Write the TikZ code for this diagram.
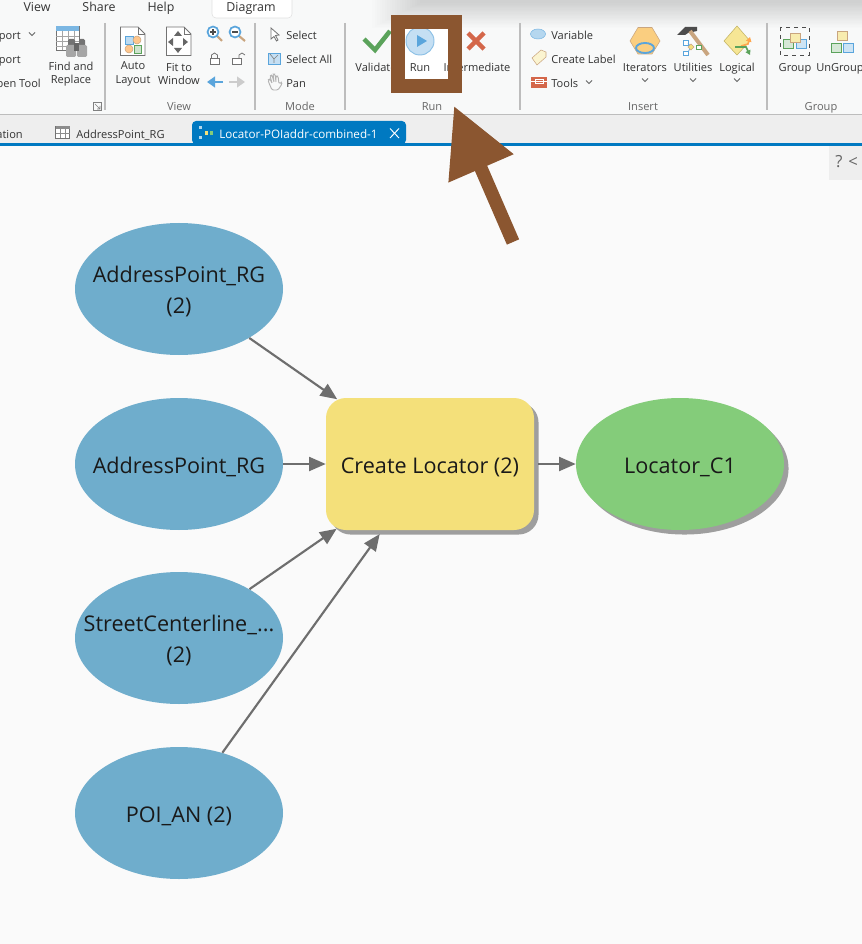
\documentclass[tikz,border=0pt]{standalone}
\usepackage{fontspec}
\setmainfont{Open Sans}
\usetikzlibrary{arrows.meta,shapes.geometric,shadows}

\definecolor{ribbonbg}{HTML}{F8F9F9}
\definecolor{stripbg}{HTML}{EEEEEE}
\definecolor{canvasbg}{HTML}{FAFAFA}
\definecolor{tabblue}{HTML}{0079C1}
\definecolor{varblue}{HTML}{6FADCC}
\definecolor{toolyellow}{HTML}{F4E07A}
\definecolor{outgreen}{HTML}{84CC7A}
\definecolor{flowgray}{HTML}{6E6E6E}
\definecolor{pointerbrown}{HTML}{8B5630}
\definecolor{labelgray}{HTML}{333333}
\definecolor{sepgray}{HTML}{BDBDBD}
\definecolor{iconblue}{HTML}{5AA5DC}
\definecolor{icongreen}{HTML}{5BA35B}
\definecolor{iconred}{HTML}{D4674A}
\definecolor{icontan}{HTML}{C9A57F}

\newcommand{\modeltext}[1]{\raisebox{-2.2pt}[\height][\depth]{\begin{tabular}{@{}c@{}}#1\end{tabular}}}

\tikzset{
  ribbontext/.style={font=\fontsize{8.3}{10}\selectfont, text=labelgray, inner sep=0pt, align=center, text height=8pt, text depth=0.7pt},
  ribbontwo/.style={ribbontext, text height=, text depth=},
  ribbonleft/.style={ribbontext, anchor=west},
  ribbonright/.style={ribbontext, anchor=east},
  menutext/.style={ribbontext, font=\fontsize{9.3}{11}\selectfont},
  grouptext/.style={ribbontext, text=black!60},
  chevron/.style={draw=black!60, line width=0.6pt},
  sepline/.style={draw=sepgray, line width=0.8pt},
  iconline/.style={draw=black!55, line width=0.6pt},
  modelvar/.style={ellipse, fill=varblue, minimum width=156pt, minimum height=99pt, inner sep=-25pt, font=\fontsize{16.2}{23}\selectfont, text=black!90},
  modeltool/.style={rectangle, rounded corners=15pt, fill=toolyellow, minimum width=156pt, minimum height=99pt, inner sep=0pt, font=\fontsize{16.2}{23}\selectfont, text=black!90, copy shadow={shadow xshift=3.4pt, shadow yshift=-3.4pt, fill=black!38, draw=none}},
  modelout/.style={ellipse, fill=outgreen, minimum width=156pt, minimum height=99pt, inner sep=-25pt, font=\fontsize{16.2}{23}\selectfont, text=black!90, copy shadow={shadow xshift=3.4pt, shadow yshift=-3.4pt, fill=black!38, draw=none}},
  modelflow/.style={draw=flowgray, line width=1.6pt, -{Triangle[length=12.5pt,width=10.5pt]}},
}

\begin{document}
\begin{tikzpicture}[x=0.75pt,y=-0.75pt]
\useasboundingbox (0,0) rectangle (862,944);

% backgrounds
\fill [canvasbg] (0,0) rectangle (862,944);
\fill [ribbonbg] (0,0) rectangle (862,114);
\foreach \d in {0,...,19}
  \fill [black, opacity=0.009] (372+2.5*\d,0) rectangle (862,28-1.3*\d);
\fill [stripbg] (0,115) rectangle (862,143);
\draw [sepgray] (0,114.5) -- (862,114.5);
\fill [tabblue] (0,143) rectangle (862,146);

% menu row
\draw [draw=black!12, fill=white, rounded corners=3pt] (212,-4) -- (212,18) -- (292,18) -- (292,-4);
\node [menutext] (menuview) at (37,7) {View};
\node [menutext] (menushare) at (99,7) {Share};
\node [menutext] (menuhelp) at (161,7) {Help};
\node [menutext] (menudiagram) at (251,7) {Diagram};

\foreach \sx in {105,255,345,520,767}
  \draw [sepline] (\sx,23) -- (\sx,110);

% clipped commands at the left
\node [ribbonright] (cmdone) at (21,35) {port};
\node [ribbonright] (cmdtwo) at (21,59) {port};
\node [ribbonright] (cmdthree) at (41,83) {pen Tool};
\node [ribbontwo] (findreplace) at (71,74) {Find and\\Replace};

% find and replace icon
\draw [iconline, fill=white] (56,26) rectangle (79,50);
\fill [iconblue!80] (56,26) rectangle (79,31);
\foreach \gy in {36,41,46}
  \draw [black!35, line width=0.4pt] (56,\gy) -- (79,\gy);
\foreach \gx in {62,68,74}
  \draw [black!35, line width=0.4pt] (\gx,31) -- (\gx,50);
\fill [black!55, rounded corners=1pt] (68,39) rectangle (75,46);
\fill [black!55, rounded corners=1pt] (79,39) rectangle (85,46);
\fill [black!35, rounded corners=1pt] (66,45) rectangle (76,57);
\fill [black!35, rounded corners=1pt] (77,45) rectangle (87,57);
\fill [black!60] (74,43) rectangle (79,51);

% auto layout and fit to window icons
\draw [iconline, fill=white] (120.5,27) -- (138,27) -- (145,34) -- (145,55.5) -- (120.5,55.5) -- cycle;
\draw [iconline] (138,27) -- (138,34) -- (145,34);
\draw [draw=iconblue, fill=iconblue!40] (125,36) rectangle (133,44);
\draw [draw=icontan, fill=orange!45] (137,40) circle [radius=4];
\draw [draw=icontan, fill=orange!45] (129,49) circle [radius=4];
\draw [draw=icongreen, fill=icongreen!30] (134,45) rectangle (141,53);
\draw [iconline, fill=white] (166.5,27) -- (184,27) -- (191,34) -- (191,55.5) -- (166.5,55.5) -- cycle;
\draw [iconline] (184,27) -- (184,34) -- (191,34);
\fill [black!60] (178,31) -- (182,36) -- (174,36) -- cycle;
\fill [black!60] (178,53) -- (182,48) -- (174,48) -- cycle;
\fill [black!60] (168,42) -- (173,38) -- (173,46) -- cycle;
\fill [black!60] (188,42) -- (183,38) -- (183,46) -- cycle;
\node [ribbontwo] (autolayout) at (133,74) {Auto\\Layout};
\node [ribbontwo] (fitwindow) at (179,74) {Fit to\\Window};

% zoom, lock and arrow icons
\draw [icontan, line width=1.6pt] (217,36) -- (222,41);
\draw [icontan, line width=1.6pt] (239,36) -- (245,41);
\draw [iconblue, fill=white, line width=1.3pt] (213,32) circle [radius=5.5];
\draw [iconblue, fill=white, line width=1.3pt] (235,32) circle [radius=5.5];
\draw [black!70, line width=0.8pt] (210,32) -- (216,32) (213,29) -- (213,35);
\draw [black!70, line width=0.8pt] (232,32) -- (238,32);
\draw [iconline, fill=white] (210,58) rectangle (219,64);
\draw [iconline] (211.5,58) -- (211.5,55) -- (214.5,53) -- (217.5,55) -- (217.5,58);
\draw [iconline, fill=white] (232,58) rectangle (241,64);
\draw [iconline] (239,58) -- (239,55) -- (242,53) -- (245,55);
\draw [iconblue, line width=1.6pt, -{Triangle[length=6pt,width=8pt]}] (223,82) -- (207,82);
\draw [black!20, line width=1.6pt, -{Triangle[length=6pt,width=8pt]}] (229,82) -- (245,82);

% mode group
\draw [iconline, fill=white] (271,28) -- (271,39) -- (274,36.5) -- (276.5,41) -- (278,40) -- (275.5,35.5) -- (279,35) -- cycle;
\draw [draw=iconblue, fill=iconblue!35] (268,53) rectangle (280,64);
\draw [black!50, line width=0.5pt] (270,54) -- (274,59) -- (278,55) (274,59) -- (274,63);
\draw [black!30, line width=0.7pt, rounded corners=1pt] (269,83) -- (268,80) -- (270,79) -- (272,83) (272,83) -- (270,76) -- (272,75) -- (274,82) (274,82) -- (273,74) -- (275,74) -- (276,82) (276,82) -- (276,76) -- (278,76) -- (279,84) -- (281,82) -- (282,84) -- (278,90) -- (272,90) -- (269,83);
\node [ribbonleft] (selectone) at (286,35) {Select};
\node [ribbonleft] (selectall) at (286,59) {Select All};
\node [ribbonleft] (panmode) at (286,83) {Pan};

% run group
\fill [white] (405,29) rectangle (448,79);
\draw [icongreen, line width=3.4pt] (364,39) -- (375,50) -- (390,31);
\draw [draw=iconblue!70, fill=iconblue!35, line width=0.7pt] (420,41) circle [radius=14];
\fill [iconblue] (417,35) -- (427,41) -- (417,47) -- cycle;
\draw [iconred, line width=3.4pt] (468,33) -- (484,49) (484,33) -- (468,49);
\node [ribbontext] (validate) at (376,67) {Validate};
\node [ribbontext] (runcmd) at (420,67) {Run};
\node [ribbontext] (intermediate) at (477,67) {Intermediate};

% insert group
\draw [draw=iconblue!80, fill=iconblue!45] (538,34) ellipse [x radius=7.5, y radius=5];
\draw [draw=icontan, fill=toolyellow!35] (532,58) -- (541,50) -- (546,52) -- (546,57) -- (537,65) -- cycle;
\fill [iconred] (531,77) rectangle (547,88);
\draw [white, line width=0.6pt] (531,81) -- (547,81) (535,79) rectangle (543,83);
\node [ribbonleft] (varcmd) at (551,35) {Variable};
\node [ribbonleft] (labelcmd) at (551,59) {Create Label};
\node [ribbonleft] (toolscmd) at (551,83) {Tools};
\draw [draw=icontan, fill=orange!40!toolyellow!70] (630,41) -- (638,27.5) -- (652,27.5) -- (660,41) -- (652,54) -- (638,54) -- cycle;
\draw [iconblue, line width=1.4pt] (645,48) ellipse [x radius=9, y radius=5];
\fill [black!70] (677,35) -- (685,27) -- (697,27) -- (697,31) -- (688,33) -- (685,35) -- cycle;
\draw [icontan, line width=3pt] (690,31) -- (708,55);
\draw [draw=iconblue, fill=white] (683,40) rectangle (688,45);
\draw [draw=iconblue, fill=white] (683,51) rectangle (688,55);
\draw [iconblue, line width=0.5pt] (688,43) -- (691,47) -- (688,52);
\draw [draw=icontan, fill=toolyellow] (691,44) -- (694,47) -- (691,50) -- (688,47) -- cycle;
\draw [draw=icongreen, fill=white] (696,45) rectangle (701,49);
\draw [draw=toolyellow!80!black, fill=toolyellow!80] (737,26) -- (750,41) -- (737,55) -- (724,41) -- cycle;
\draw [orange!70, line width=1.2pt, -{Triangle[length=3.5pt,width=4pt]}] (741,46) -- (748,44) -- (750,37);
\draw [icongreen, line width=1.2pt, -{Triangle[length=3.5pt,width=4pt]}] (735,47) -- (746,47) -- (750,55);
\node [ribbontext] (iterators) at (645,67) {Iterators};
\node [ribbontext] (utilities) at (693,67) {Utilities};
\node [ribbontext] (logical) at (737,67) {Logical};

% group group
\draw [black!70, dashed, line width=0.5pt] (780,27) rectangle (809,55);
\draw [draw=icongreen, fill=icongreen!25] (783,39) rectangle (793,48);
\draw [draw=iconblue, fill=iconblue!30] (796,39) rectangle (806,48);
\draw [draw=icontan, fill=toolyellow!60] (790,33) rectangle (800,42);
\draw [draw=icontan, fill=toolyellow!60] (837,31) rectangle (847,40);
\draw [draw=icongreen, fill=icongreen!25] (831,43) rectangle (841,52);
\draw [draw=iconblue, fill=iconblue!30] (843,43) rectangle (853,52);
\node [ribbontext] (groupcmd) at (795,67) {Group};
\node [ribbontext] (ungroupcmd) at (840,67) {UnGroup};

\foreach \cx/\cy in {32/34,589/82,645/80,693/80,737/80}
  \draw [chevron] (\cx-3,\cy-1.5) -- (\cx,\cy+1.5) -- (\cx+3,\cy-1.5);

% group captions
\node [grouptext] (captionview) at (179,106) {View};
\node [grouptext] (captionmode) at (300,106) {Mode};
\node [grouptext] (captionrun) at (432,106) {Run};
\node [grouptext] (captioninsert) at (643,106) {Insert};
\node [grouptext] (captiongroup) at (821,106) {Group};
\draw [black!50, line width=0.5pt] (93,102) rectangle (101,110);
\draw [black!50, line width=0.5pt] (95,104) -- (100,109) (100,106) -- (100,109) -- (97,109);

% tabs
\node [ribbonright] (tabation) at (23,133.5) {ation};
\draw [iconline, fill=white] (55.5,126.5) rectangle (69.5,138.5);
\fill [black!45] (55.5,126.5) rectangle (69.5,129.5);
\draw [black!45, line width=0.4pt] (55.5,133) -- (69.5,133) (60,129.5) -- (60,138.5) (65,129.5) -- (65,138.5);
\node [ribbonleft] (tabaddress) at (76,133.5) {AddressPoint\_RG};
\fill [tabblue, rounded corners=3pt] (192,144) -- (192,121) -- (406,121) -- (406,144) -- cycle;
\fill [white!70!tabblue] (199,126) rectangle (202,129);
\fill [white!70!tabblue] (199,136) rectangle (202,139);
\fill [toolyellow] (205,131) rectangle (208,135);
\fill [outgreen] (210,131) rectangle (213,135);
\node [ribbonleft, text=white, font=\fontsize{8.75}{10}\selectfont] (tabmodel) at (219,133.5) {Locator-POIaddr-combined-1};
\draw [white, line width=0.7pt] (390,128.5) -- (399,138) (399,128.5) -- (390,138);

% help panel
\fill [stripbg] (829,146) rectangle (862,180);
\node [ribbontext, font=\fontsize{12.5}{14}\selectfont, text=black!60] (helpmark) at (839,163) {?};
\node [ribbontext, font=\fontsize{12.5}{14}\selectfont, text=black!60] (helpfold) at (853,163) {<};

% model
\node [modelvar] (addrone) at (179,289) {\modeltext{AddressPoint\_RG\\(2)}};
\node [modelvar] (addrtwo) at (179,464) {\modeltext{AddressPoint\_RG}};
\node [modelvar] (street) at (179,638) {\modeltext{StreetCenterline\_...\\(2)}};
\node [modelvar] (poi) at (179,813) {\modeltext{POI\_AN (2)}};
\node [modeltool] (locator) at (430,464) {\modeltext{Create Locator (2)}};
\node [modelout] (output) at (680,464) {\modeltext{Locator\_C1}};

\draw [modelflow, shorten >=-2pt] (addrone) -- (locator);
\draw [modelflow] (addrtwo) -- (locator);
\draw [modelflow, shorten >=-2pt] (street) -- (locator);
\draw [modelflow, shorten >=3.5pt] (poi) -- (locator);
\draw [modelflow, shorten <=3pt] (locator) -- (output);

% callout on the run button
\coordinate (pointertail) at (513,242);
\coordinate (pointertip) at (454,106);
\draw [pointerbrown, line width=10pt, -{Triangle[length=51pt,width=50.5pt]}] (pointertail) -- (pointertip);
\draw [pointerbrown, line width=10.5pt] (398,22) rectangle (455,86);
\end{tikzpicture}
\end{document}
